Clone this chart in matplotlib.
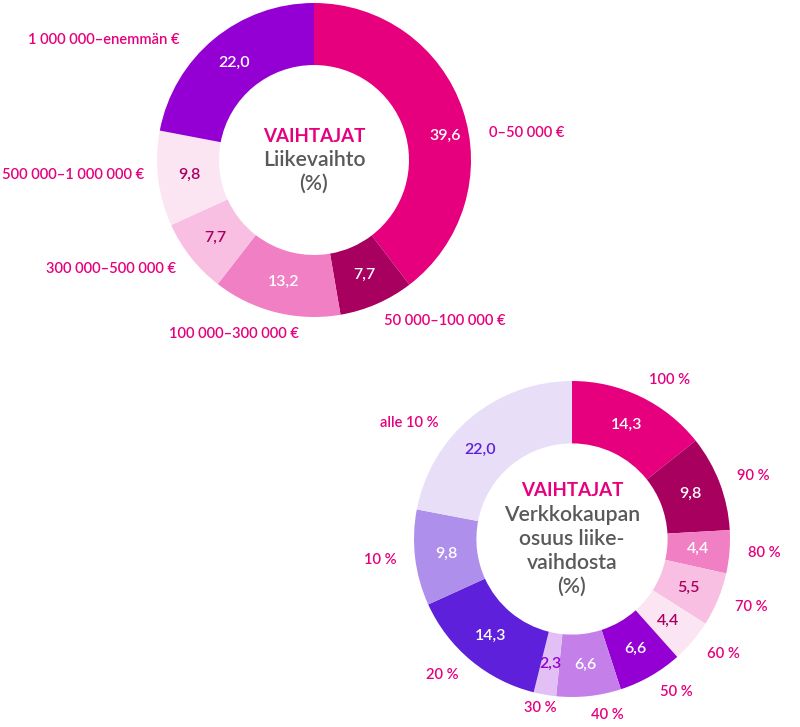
import numpy as np
import matplotlib.pyplot as plt

plt.rcParams["font.family"] = ["Lato", "DejaVu Sans"]

W, H = 800, 727

# Liikevaihto (turnover)
turnover_labels = ["0–50 000 €", "50 000–100 000 €", "100 000–300 000 €",
                   "300 000–500 000 €", "500 000–1 000 000 €", "1 000 000–enemmän €"]
turnover_values = [39.6, 7.7, 13.2, 7.7, 9.8, 22.0]

# Verkkokaupan osuus liikevaihdosta (web shop share)
share_labels = ["100 %", "90 %", "80 %", "70 %", "60 %", "50 %",
                "40 %", "30 %", "20 %", "10 %", "alle 10 %"]
share_values = [14.3, 9.8, 4.4, 5.5, 4.4, 6.6, 6.6, 2.3, 14.3, 9.8, 22.0]

MAGENTA = "#E6007E"
GREY = "#58595B"
turnover_colors = ["#E6007E", "#A8005F", "#F07FC4", "#F8BFE2", "#FCE5F3", "#9400D3"]
turnover_text = ["white", "white", "white", "#A8005F", "#A8005F", "white"]
share_colors = ["#E6007E", "#A8005F", "#F07FC4", "#F8BFE2", "#FCE5F3", "#9400D3",
                "#C47FE9", "#E2BFF4", "#5F20DC", "#AF8FEC", "#E8DEF8"]
share_text = ["white", "white", "white", "#A8005F", "#A8005F", "white",
              "white", "#9400D3", "white", "white", "#5F20DC"]


def fmt(v):
    return f"{v:.1f}".replace(".", ",")


def donut(ax, values, labels, colors, text_colors, center_px, radius, title,
          label_moves=None, value_moves=None):
    cx, cy = center_px[0], H - center_px[1]
    wedges, texts = ax.pie(values, labels=labels, colors=colors, startangle=90,
                           counterclock=False, radius=radius, center=(cx, cy),
                           labeldistance=1.12,
                           wedgeprops=dict(width=radius * 0.395, linewidth=0),
                           textprops=dict(color=MAGENTA, fontsize=10.6,
                                          fontweight="semibold"))
    # pie decides alignment from absolute x, so fix it relative to the centre
    for t in texts:
        x, _ = t.get_position()
        t.set_ha("left" if x > cx else "right")
    for i, (dx, dy) in (label_moves or {}).items():
        x, y = texts[i].get_position()
        texts[i].set_position((x + dx, y - dy))
    value_moves = value_moves or {}
    for i, (w, v) in enumerate(zip(wedges, values)):
        a = np.deg2rad((w.theta1 + w.theta2) / 2)
        x = cx + radius * 0.8 * np.cos(a)
        y = cy + radius * 0.8 * np.sin(a)
        dx, dy = value_moves.get(i, (0, 0))
        ax.text(x + dx, y - dy, fmt(v), ha="center", va="center",
                color=text_colors[i], fontsize=11.5, fontweight="semibold")
    n = len(title) + 1
    step = 24
    top = cy + step * (n - 1) / 2
    ax.text(cx, top, "VAIHTAJAT", ha="center", va="center", color=MAGENTA,
            fontsize=13.5, fontweight="bold")
    for k, line in enumerate(title, start=1):
        ax.text(cx, top - k * step, line, ha="center", va="center", color=GREY,
                fontsize=15.3, fontweight="semibold")


fig = plt.figure(figsize=(W / 100, H / 100), dpi=100)
ax = fig.add_axes([0, 0, 1, 1])

donut(ax, turnover_values, turnover_labels, turnover_colors, turnover_text,
      (314, 160), 157, ["Liikevaihto", "(%)"],
      label_moves={0: (8, 29), 2: (28, 3), 4: (5, -6), 5: (-22, 15)},
      value_moves={0: (12, 16)})
donut(ax, share_values, share_labels, share_colors, share_text,
      (572, 539), 158, ["Verkkokaupan", "osuus liike-", "vaihdosta", "(%)"],
      label_moves={7: (15, -5), 10: (-21, 20)},
      value_moves={10: (-11, 8)})

ax.set_xlim(0, W)
ax.set_ylim(0, H)
ax.set_aspect("equal")
ax.axis("off")

fig.savefig("out.png", dpi=100)
